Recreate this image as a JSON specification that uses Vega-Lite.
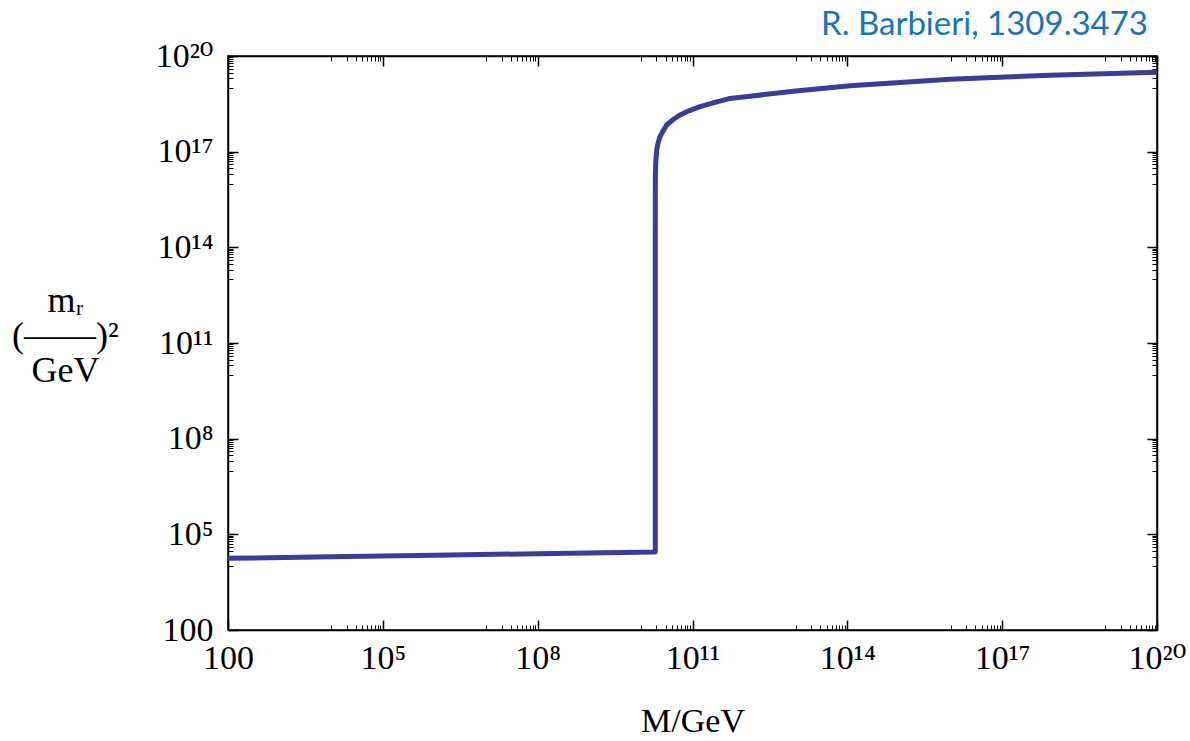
{
  "$schema": "https://vega.github.io/schema/vega-lite/v6.json",
  "width": 929,
  "height": 574,
  "autosize": {"type": "none"},
  "padding": {"left": 228, "top": 56, "right": 33, "bottom": 111},
  "background": "white",
  "title": {
    "text": "R. Barbieri, 1309.3473",
    "anchor": "end",
    "frame": "group",
    "orient": "top",
    "offset": -3,
    "dx": -9,
    "font": "Lato",
    "fontSize": 33,
    "fontWeight": "normal",
    "color": "#1a73b9"
  },
  "config": {
    "view": {"stroke": "black", "strokeWidth": 1.5},
    "axis": {
      "grid": false,
      "domainColor": "black",
      "domainWidth": 1.5,
      "tickColor": "black",
      "labelFont": "'Liberation Serif', 'DejaVu Serif', serif",
      "labelFontSize": 34,
      "labelColor": "black",
      "titleFont": "'Liberation Serif', 'DejaVu Serif', serif",
      "titleFontSize": 34,
      "titleFontWeight": "normal",
      "titleColor": "black"
    }
  },
  "data": {
    "values": [
      {"i": 1, "M": 100, "m2": 17700},
      {"i": 2, "M": 1e4, "m2": 19800},
      {"i": 3, "M": 1e6, "m2": 22100},
      {"i": 4, "M": 1e8, "m2": 24700},
      {"i": 5, "M": 1.9e10, "m2": 27900},
      {"i": 6, "M": 1.901e10, "m2": 1e13},
      {"i": 7, "M": 1.903e10, "m2": 3e15},
      {"i": 8, "M": 1.91e10, "m2": 1.9e16},
      {"i": 9, "M": 1.95e10, "m2": 5.0e16},
      {"i": 10, "M": 2.02e10, "m2": 1.1e17},
      {"i": 11, "M": 2.14e10, "m2": 1.78e17},
      {"i": 12, "M": 2.34e10, "m2": 2.95e17},
      {"i": 13, "M": 2.63e10, "m2": 4.17e17},
      {"i": 14, "M": 3.16e10, "m2": 6.9e17},
      {"i": 15, "M": 4.17e10, "m2": 1.0e18},
      {"i": 16, "M": 5.73e10, "m2": 1.41e18},
      {"i": 17, "M": 8.51e10, "m2": 1.91e18},
      {"i": 18, "M": 1.4e11, "m2": 2.57e18},
      {"i": 19, "M": 2.51e11, "m2": 3.39e18},
      {"i": 20, "M": 5.33e11, "m2": 4.68e18},
      {"i": 21, "M": 1.3e12, "m2": 5.5e18},
      {"i": 22, "M": 1e13, "m2": 7.94e18},
      {"i": 23, "M": 1.13e14, "m2": 1.17e19},
      {"i": 24, "M": 9.77e15, "m2": 1.86e19},
      {"i": 25, "M": 8.45e17, "m2": 2.51e19},
      {"i": 26, "M": 1e20, "m2": 3.09e19}
    ]
  },
  "layer": [
    {
      "mark": {"type": "line", "color": "#3b3b98", "strokeWidth": 5, "strokeJoin": "round"},
      "encoding": {
        "order": {"field": "i", "type": "quantitative"},
        "x": {
          "field": "M", "type": "quantitative",
          "scale": {"type": "log", "domain": [100, 1e20], "nice": false},
          "axis": {
            "orient": "bottom",
            "title": "M/GeV",
            "titlePadding": 24,
            "values": [100, 10000, 20000, 30000, 40000, 50000, 60000, 70000, 80000, 90000, 1e5, 1e7, 2e7, 3e7, 4e7, 5e7, 6e7, 7e7, 8e7, 9e7, 1e8, 1e10, 2e10, 3e10, 4e10, 5e10, 6e10, 7e10, 8e10, 9e10, 1e11, 1e13, 2e13, 3e13, 4e13, 5e13, 6e13, 7e13, 8e13, 9e13, 1e14, 1e16, 2e16, 3e16, 4e16, 5e16, 6e16, 7e16, 8e16, 9e16, 1e17, 1e19, 2e19, 3e19, 4e19, 5e19, 6e19, 7e19, 8e19, 9e19, 1e20],
            "labelExpr": "datum.value==100?'100':datum.value==1e5?'10⁵':datum.value==1e8?'10⁸':datum.value==1e11?'10¹¹':datum.value==1e14?'10¹⁴':datum.value==1e17?'10¹⁷':datum.value==1e20?'10²⁰':''",
            "labelPadding": 21,
            "labelOverlap": false,
            "labelFlush": false,
            "tickSize": {"condition": {"test": "indexof([100,1e5,1e8,1e11,1e14,1e17,1e20], datum.value) >= 0", "value": -10}, "value": -5},
            "tickWidth": {"condition": {"test": "indexof([100,1e5,1e8,1e11,1e14,1e17,1e20], datum.value) >= 0", "value": 1.5}, "value": 1}
          }
        },
        "y": {
          "field": "m2", "type": "quantitative",
          "scale": {"type": "log", "domain": [100, 1e20], "nice": false},
          "axis": {
            "orient": "left",
            "title": ["mᵣ", "(——)²", "GeV"],
            "titleAngle": 0,
            "titleAlign": "center",
            "titleBaseline": "middle",
            "titleX": -163,
            "titleY": 244,
            "titleLineHeight": 35,
            "titleFontSize": 36,
            "values": [100, 10000, 20000, 30000, 40000, 50000, 60000, 70000, 80000, 90000, 1e5, 1e7, 2e7, 3e7, 4e7, 5e7, 6e7, 7e7, 8e7, 9e7, 1e8, 1e10, 2e10, 3e10, 4e10, 5e10, 6e10, 7e10, 8e10, 9e10, 1e11, 1e13, 2e13, 3e13, 4e13, 5e13, 6e13, 7e13, 8e13, 9e13, 1e14, 1e16, 2e16, 3e16, 4e16, 5e16, 6e16, 7e16, 8e16, 9e16, 1e17, 1e19, 2e19, 3e19, 4e19, 5e19, 6e19, 7e19, 8e19, 9e19, 1e20],
            "labelExpr": "datum.value==100?'100':datum.value==1e5?'10⁵':datum.value==1e8?'10⁸':datum.value==1e11?'10¹¹':datum.value==1e14?'10¹⁴':datum.value==1e17?'10¹⁷':datum.value==1e20?'10²⁰':''",
            "labelPadding": 25,
            "labelOverlap": false,
            "labelFlush": false,
            "labelBaseline": "middle",
            "tickSize": {"condition": {"test": "indexof([100,1e5,1e8,1e11,1e14,1e17,1e20], datum.value) >= 0", "value": -10}, "value": -5},
            "tickWidth": {"condition": {"test": "indexof([100,1e5,1e8,1e11,1e14,1e17,1e20], datum.value) >= 0", "value": 1.5}, "value": 1}
          }
        }
      }
    },
    {
      "mark": {"type": "line", "strokeOpacity": 0},
      "encoding": {
        "order": {"field": "i", "type": "quantitative"},
        "x": {
          "field": "M", "type": "quantitative",
          "scale": {"type": "log", "domain": [100, 1e20], "nice": false},
          "axis": {
            "orient": "top",
            "title": null,
            "labels": false,
            "values": [100, 10000, 20000, 30000, 40000, 50000, 60000, 70000, 80000, 90000, 1e5, 1e7, 2e7, 3e7, 4e7, 5e7, 6e7, 7e7, 8e7, 9e7, 1e8, 1e10, 2e10, 3e10, 4e10, 5e10, 6e10, 7e10, 8e10, 9e10, 1e11, 1e13, 2e13, 3e13, 4e13, 5e13, 6e13, 7e13, 8e13, 9e13, 1e14, 1e16, 2e16, 3e16, 4e16, 5e16, 6e16, 7e16, 8e16, 9e16, 1e17, 1e19, 2e19, 3e19, 4e19, 5e19, 6e19, 7e19, 8e19, 9e19, 1e20],
            "tickSize": {"condition": {"test": "indexof([100,1e5,1e8,1e11,1e14,1e17,1e20], datum.value) >= 0", "value": -10}, "value": -5},
            "tickWidth": {"condition": {"test": "indexof([100,1e5,1e8,1e11,1e14,1e17,1e20], datum.value) >= 0", "value": 1.5}, "value": 1}
          }
        },
        "y": {
          "field": "m2", "type": "quantitative",
          "scale": {"type": "log", "domain": [100, 1e20], "nice": false},
          "axis": {
            "orient": "right",
            "title": null,
            "labels": false,
            "values": [100, 10000, 20000, 30000, 40000, 50000, 60000, 70000, 80000, 90000, 1e5, 1e7, 2e7, 3e7, 4e7, 5e7, 6e7, 7e7, 8e7, 9e7, 1e8, 1e10, 2e10, 3e10, 4e10, 5e10, 6e10, 7e10, 8e10, 9e10, 1e11, 1e13, 2e13, 3e13, 4e13, 5e13, 6e13, 7e13, 8e13, 9e13, 1e14, 1e16, 2e16, 3e16, 4e16, 5e16, 6e16, 7e16, 8e16, 9e16, 1e17, 1e19, 2e19, 3e19, 4e19, 5e19, 6e19, 7e19, 8e19, 9e19, 1e20],
            "tickSize": {"condition": {"test": "indexof([100,1e5,1e8,1e11,1e14,1e17,1e20], datum.value) >= 0", "value": -10}, "value": -5},
            "tickWidth": {"condition": {"test": "indexof([100,1e5,1e8,1e11,1e14,1e17,1e20], datum.value) >= 0", "value": 1.5}, "value": 1}
          }
        }
      }
    }
  ],
  "resolve": {"axis": {"x": "independent", "y": "independent"}}
}
